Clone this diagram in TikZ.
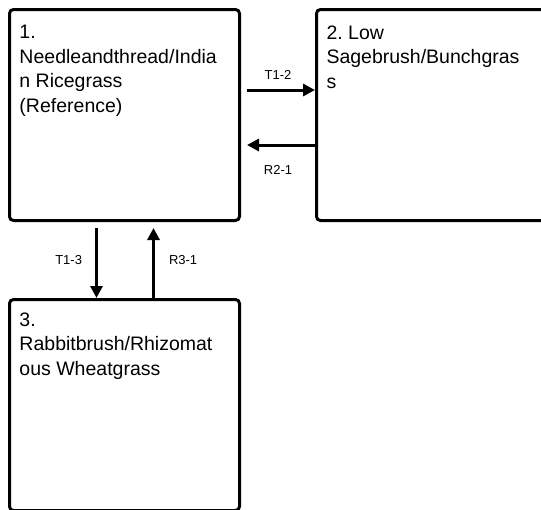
\documentclass[tikz,border=0pt]{standalone}
\usepackage{fontspec}
\setmainfont{Liberation Sans}
\usetikzlibrary{positioning,arrows.meta}
\frenchspacing

\begin{document}
\begin{tikzpicture}[
    x=1pt, y=-1pt,
    state/.style={draw, line width=3pt, rounded corners=4pt, anchor=north west,
                  inner xsep=10pt, inner ysep=16pt,
                  font=\fontsize{19.5}{24.5}\selectfont},
    flow/.style={-{Triangle[length=12pt,width=12pt]}, line width=3pt},
    lab/.style={font=\fontsize{13}{15}\selectfont, inner sep=1pt}
]
    \useasboundingbox (0,0) rectangle (541,509);
    \clip (0,0) rectangle (541,509);

    % States
    \node[state] (s1) at (8,8)
        {\parbox[t][179pt][t]{210pt}{1.\\Needleandthread/India\\n Ricegrass\\(Reference)}};
    \node[state] (s2) at (315,8)
        {\parbox[t][179pt][t]{210pt}{2. Low\\Sagebrush/Bunchgras\\s}};
    \node[state, inner ysep=13pt] (s3) at (8,298)
        {\parbox[t][185pt][t]{210pt}{3.\\Rabbitbrush/Rhizomat\\ous Wheatgrass}};

    % Transitions
    \draw[flow, shorten <=6pt] ([yshift=25pt]s1.east) --
        node[lab, above=8pt] {T1-2} ([yshift=25pt]s2.west);
    \draw[flow, shorten >=6pt] ([yshift=-30pt]s2.west) --
        node[lab, below=18pt] {R2-1} ([yshift=-30pt]s1.east);
    \draw[flow, shorten <=6pt] ([xshift=-28pt]s1.south) --
        node[lab, left=12pt] {T1-3} ([xshift=-28pt]s3.north);
    \draw[flow, shorten >=6pt] ([xshift=29pt]s3.north) --
        node[lab, right=13pt] {R3-1} ([xshift=29pt]s1.south);
\end{tikzpicture}
\end{document}
